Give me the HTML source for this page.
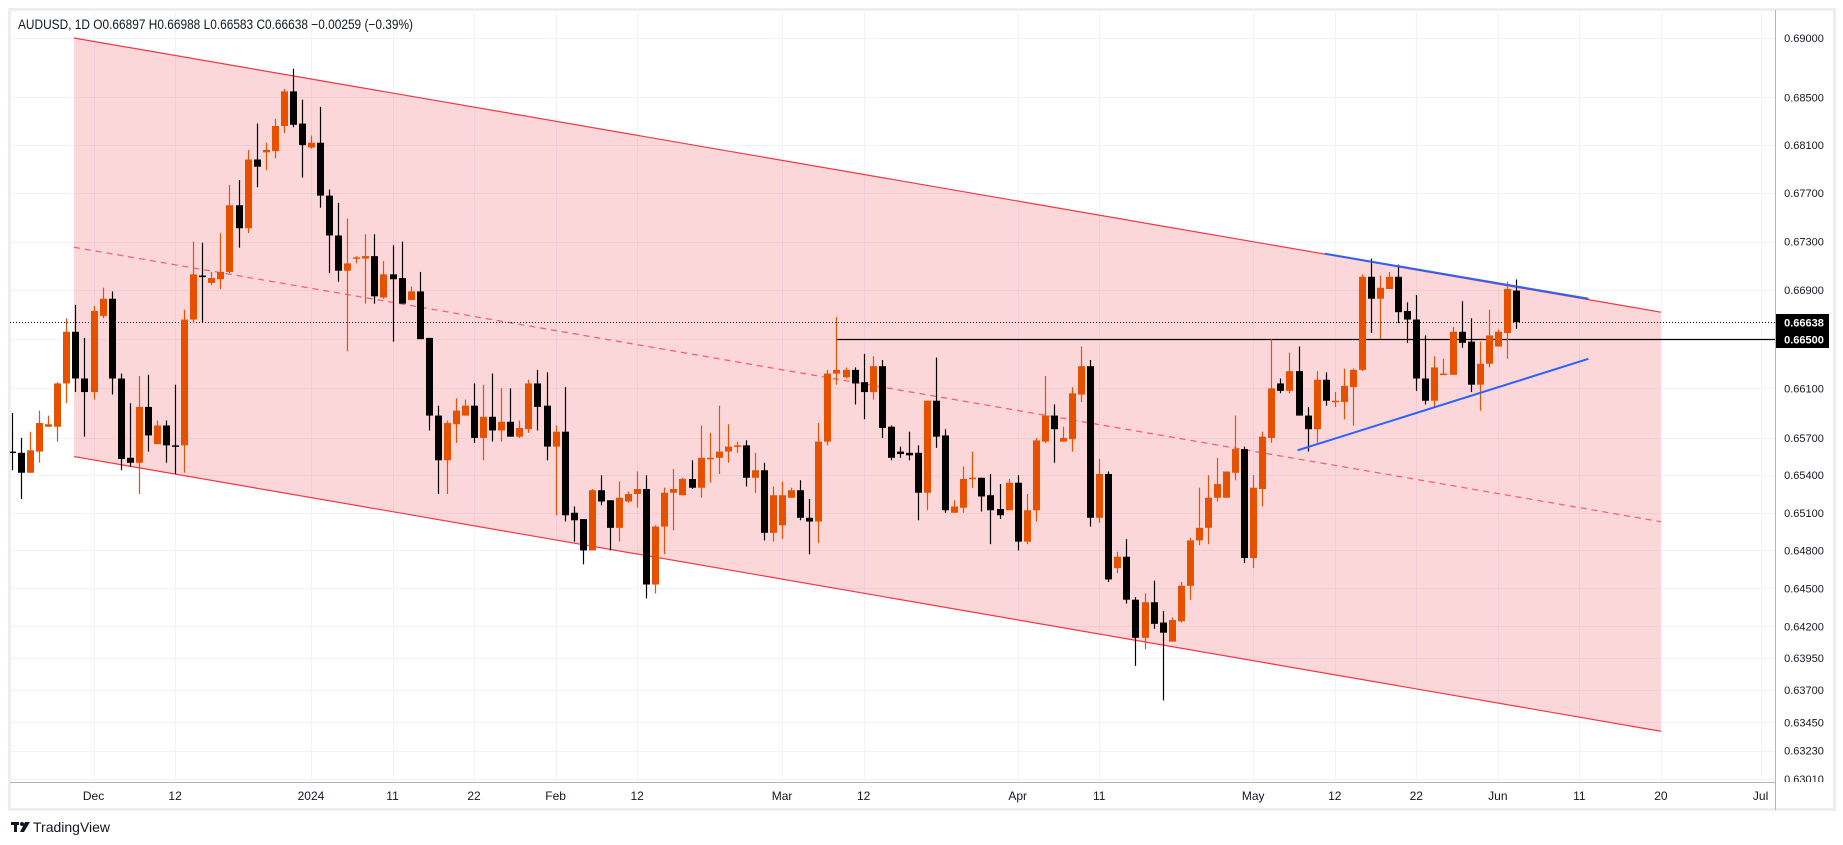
<!DOCTYPE html>
<html><head><meta charset="utf-8"><style>
html,body{margin:0;padding:0;background:#fff;}
svg{display:block;font-family:"Liberation Sans",sans-serif;}
</style></head><body>
<svg id="chart" width="1843" height="845" viewBox="0 0 1843 845" xmlns="http://www.w3.org/2000/svg">
<defs><clipPath id="plotclip"><rect x="10" y="10" width="1765" height="772"/></clipPath>
<clipPath id="axisclip"><rect x="1776" y="10" width="60" height="772"/></clipPath></defs>
<rect x="0" y="0" width="1843" height="845" fill="#fff"/>
<rect x="9.5" y="9.5" width="1825" height="800" fill="none" stroke="#eceef3" stroke-width="3"/>
<g id="grid"></g>
<g id="drawings-back" clip-path="url(#plotclip)"></g>
<g id="candles" clip-path="url(#plotclip)"></g>
<g id="drawings-front" clip-path="url(#plotclip)"></g>
<line x1="1775.5" y1="10" x2="1775.5" y2="810" stroke="#b2b5be" stroke-width="1"/>
<line x1="10" y1="782.5" x2="1775" y2="782.5" stroke="#b2b5be" stroke-width="1"/>
<g id="yaxis"></g>
<g id="xaxis"></g>
<text x="18" y="29" font-size="13.5" fill="#131722" textLength="395" lengthAdjust="spacingAndGlyphs">AUDUSD, 1D  O0.66897  H0.66988  L0.66583  C0.66638  −0.00259 (−0.39%)</text>
<g>
<rect x="11" y="822" width="8" height="3" fill="#131722"/><rect x="14" y="822" width="3" height="10" fill="#131722"/>
<circle cx="22" cy="824" r="2" fill="#131722"/><polygon points="25,822 30,822 24,832 20,832" fill="#131722"/>
<text x="33" y="832" font-size="14" fill="#131722">TradingView</text></g>
</svg>
<script>
const opens=[.6559,.6558,.6542,.6559,.6579,.6579,.6614,.6656,.6618,.6607,.6669,.6683,.6618,.6554,.6550,.6595,.6565,.6580,.6564,.6564,.6666,.6702,.6696,.6699,.6705,.6760,.6741,.6798,.6804,.6805,.6826,.6855,.6828,.6808,.6812,.6768,.6735,.6706,.6716,.6716,.6718,.6684,.6703,.6700,.6682,.6689,.6651,.6588,.6552,.6581,.6588,.6596,.6570,.6587,.6576,.6583,.6571,.6577,.6614,.6596,.6563,.6575,.6510,.6505,.6480,.6528,.6520,.6498,.6519,.6525,.6529,.6453,.6499,.6526,.6524,.6537,.6530,.6553,.6554,.6559,.6563,.6564,.6538,.6544,.6494,.6500,.6522,.6528,.6506,.6503,.6567,.6622,.6619,.6625,.6615,.6607,.6628,.6579,.6559,.6558,.6558,.6526,.6600,.6572,.6510,.6514,.6538,.6538,.6524,.6513,.6512,.6534,.6487,.6512,.6567,.6588,.6567,.6569,.6605,.6628,.6506,.6541,.6466,.6475,.6441,.6411,.6439,.6423,.6408,.6424,.6452,.6488,.6498,.6522,.6522,.6542,.6561,.6474,.6529,.6570,.6614,.6608,.6624,.6588,.6577,.6617,.6599,.6599,.6611,.6625,.6701,.6683,.6691,.6701,.6673,.6666,.6618,.6600,.6621,.6621,.6656,.6648,.6613,.6630,.6644,.6655,.66897];
const highs=[.6590,.6570,.6575,.6592,.6588,.6615,.6667,.6678,.6651,.6677,.6692,.6689,.6622,.6598,.6620,.6621,.6584,.6584,.6613,.6674,.6730,.6729,.6705,.6737,.6777,.6781,.6806,.6828,.6812,.6832,.6857,.6874,.6848,.6818,.6842,.6773,.6762,.6749,.6718,.6736,.6736,.6714,.6727,.6730,.6693,.6705,.6651,.6596,.6584,.6602,.6601,.6614,.6613,.6622,.6610,.6610,.6584,.6617,.6625,.6623,.6580,.6611,.6515,.6505,.6529,.6540,.6520,.6535,.6527,.6543,.6540,.6500,.6530,.6545,.6538,.6552,.6580,.6574,.6596,.6581,.6567,.6568,.6558,.6550,.6531,.6535,.6530,.6536,.6521,.6582,.6625,.6668,.6627,.6627,.6638,.6636,.6633,.6580,.6563,.6575,.6564,.6600,.6635,.6577,.6520,.6547,.6559,.6538,.6541,.6533,.6537,.6540,.6525,.6570,.6620,.6597,.6579,.6611,.6644,.6633,.6553,.6543,.6479,.6489,.6443,.6446,.6456,.6432,.6427,.6455,.6490,.6530,.6540,.6554,.6543,.6588,.6563,.6540,.6575,.6650,.6618,.6639,.6644,.6595,.6624,.6623,.6607,.6626,.6626,.6703,.6716,.6702,.6705,.6711,.6680,.6686,.6653,.6636,.6634,.6660,.6681,.6667,.6648,.6674,.6658,.6697,.66988];
const lows=[.6544,.6521,.6542,.6550,.6579,.6567,.6598,.6607,.6571,.6601,.6667,.6605,.6544,.6547,.6525,.6559,.6565,.6550,.6541,.6542,.6663,.6664,.6694,.6691,.6704,.6725,.6737,.6775,.6789,.6799,.6820,.6825,.6783,.6807,.6758,.6704,.6697,.6640,.6712,.6679,.6679,.6683,.6648,.6679,.6682,.6650,.6576,.6525,.6525,.6566,.6588,.6566,.6552,.6567,.6567,.6571,.6570,.6574,.6576,.6552,.6508,.6503,.6487,.6469,.6480,.6516,.6480,.6487,.6518,.6514,.6442,.6446,.6477,.6496,.6524,.6529,.6522,.6534,.6541,.6550,.6558,.6531,.6526,.6488,.6487,.6489,.6522,.6504,.6477,.6486,.6564,.6613,.6618,.6597,.6585,.6601,.6570,.6552,.6554,.6552,.6504,.6512,.6562,.6510,.6510,.6510,.6530,.6511,.6485,.6505,.6512,.6480,.6485,.6503,.6566,.6550,.6567,.6559,.6599,.6499,.6502,.6455,.6462,.6438,.6389,.6402,.6418,.6362,.6408,.6423,.6441,.6484,.6485,.6519,.6522,.6536,.6470,.6466,.6515,.6566,.6606,.6606,.6588,.6559,.6566,.6596,.6595,.6585,.6580,.6624,.6655,.6650,.6691,.6663,.6647,.6608,.6597,.6595,.6621,.6621,.6643,.6607,.6592,.6627,.6644,.6634,.66583];
const closes=[.6558,.6542,.6560,.6582,.6581,.6614,.6656,.6618,.6607,.6673,.6683,.6618,.6553,.6550,.6595,.6572,.6580,.6564,.6563,.6666,.6703,.6701,.6700,.6705,.6760,.6741,.6798,.6792,.6806,.6826,.6855,.6827,.6810,.6812,.6768,.6735,.6706,.6712,.6717,.6718,.6685,.6703,.6699,.6679,.6689,.6650,.6588,.6552,.6582,.6592,.6596,.6570,.6587,.6576,.6583,.6571,.6578,.6614,.6595,.6563,.6575,.6508,.6504,.6480,.6528,.6519,.6498,.6522,.6525,.6529,.6453,.6499,.6526,.6529,.6537,.6530,.6554,.6554,.6559,.6563,.6564,.6538,.6544,.6494,.6524,.6524,.6528,.6506,.6503,.6567,.6622,.6625,.6625,.6614,.6607,.6628,.6578,.6554,.6557,.6556,.6526,.6600,.6571,.6512,.6515,.6537,.6538,.6523,.6512,.6508,.6534,.6487,.6512,.6568,.6588,.6577,.6570,.6606,.6628,.6506,.6541,.6457,.6475,.6441,.6411,.6439,.6422,.6415,.6425,.6452,.6488,.6498,.6522,.6533,.6543,.6561,.6474,.6530,.6571,.6610,.6608,.6624,.6588,.6577,.6617,.6600,.6600,.6612,.6625,.6701,.6683,.6692,.6701,.6672,.6666,.6618,.6600,.6627,.6622,.6656,.6647,.6613,.6630,.6653,.6656,.6691,.66638];
const yTickValues=[0.69,0.685,0.681,0.677,0.673,0.669,0.665,0.661,0.657,0.654,0.651,0.648,0.645,0.642,0.6395,0.637,0.6345,0.6323,0.6301];
const yTickLabels=["0.69000","0.68500","0.68100","0.67700","0.67300","0.66900","0.66500","0.66100","0.65700","0.65400","0.65100","0.64800","0.64500","0.64200","0.63950","0.63700","0.63450","0.63230","0.63010"];
const xTickIndex=[9,18,33,42,51,60,69,85,94,111,120,137,146,155,164,173,182,193];
const xTickLabels=["Dec","12","2024","11","22","Feb","12","Mar","12","Apr","11","May","12","22","Jun","11","20","Jul"];
const channelUpper=[[6.84,0.6900],[182,0.6672]];
const channelLower=[[6.84,0.6555],[182,0.6338]];
const blueUpper=[[144.9,0.6720],[174,0.6683]];
const blueLower=[[141.9,0.6560],[174,0.6634]];
const levelLine=[91,0.6650];
const lastPrice=0.66638;

const NS="http://www.w3.org/2000/svg";
function xS(i){return 12+i*9.06;}
function yS(p){return 38+(Math.log(0.69)-Math.log(p))*8160;}
function mk(tag,attrs,parent){const e=document.createElementNS(NS,tag);for(const k in attrs)e.setAttribute(k,attrs[k]);parent.appendChild(e);return e;}

const grid=document.getElementById('grid');
yTickValues.forEach(v=>{const y=Math.round(yS(v))+0.5;const l=mk('line',{x1:10,x2:1775,y1:y,y2:y,stroke:'#f0f3fa','stroke-width':1},grid);

});
xTickIndex.forEach(i=>{const x=Math.round(xS(i))+0.5;const l=mk('line',{x1:x,x2:x,y1:10,y2:782,stroke:'#f0f3fa','stroke-width':1},grid);

});

const back=document.getElementById('drawings-back');
const ux1=xS(channelUpper[0][0]),uy1=yS(channelUpper[0][1]),ux2=xS(channelUpper[1][0]),uy2=yS(channelUpper[1][1]);
const ly1=yS(channelLower[0][1]),ly2=yS(channelLower[1][1]);
const fill=mk('polygon',{points:`${ux1},${uy1} ${ux2},${uy2} ${ux2},${ly2} ${ux1},${ly1}`,fill:'rgba(242,54,69,0.2)'},back);


const cu=mk('line',{x1:ux1,y1:uy1,x2:ux2,y2:uy2,stroke:'#f23645','stroke-width':1.2},back);


const cl=mk('line',{x1:ux1,y1:ly1,x2:ux2,y2:ly2,stroke:'#f23645','stroke-width':1.2},back);


const cm=mk('line',{x1:ux1,y1:(uy1+ly1)/2,x2:ux2,y2:(uy2+ly2)/2,stroke:'#f23645','stroke-width':1.2,'stroke-dasharray':'6 5','opacity':0.75},back);


const ly=Math.round(yS(levelLine[1]))+0.5;
const lv=mk('line',{x1:xS(levelLine[0]),y1:ly,x2:1775,y2:ly,stroke:'#000','stroke-width':1.2},back);


const lpY=Math.round(yS(lastPrice))+0.5;
const dl=mk('line',{x1:10,y1:lpY,x2:1775,y2:lpY,stroke:'#000','stroke-width':1,'stroke-dasharray':'1 2'},back);



const cg=document.getElementById('candles');
for(let i=0;i<opens.length;i++){
  const up=closes[i]>=opens[i];const col=up?'#e65100':'#000000';const x=xS(i);
  const g=mk('g',{},cg);
  
  
  mk('line',{x1:Math.round(x)+0.5,x2:Math.round(x)+0.5,y1:yS(highs[i]),y2:yS(lows[i]),stroke:col,'stroke-width':1.2},g);
  const t=yS(Math.max(opens[i],closes[i])),b=yS(Math.min(opens[i],closes[i]));
  mk('rect',{x:Math.round(x)-3,y:t,width:7,height:Math.max(1.5,b-t),fill:col},g);
}

const fg=document.getElementById('drawings-front');
[[blueUpper,'wedge-upper-line'],[blueLower,'wedge-lower-line']].forEach(([d,n])=>{
  const l=mk('line',{x1:xS(d[0][0]),y1:yS(d[0][1]),x2:xS(d[1][0]),y2:yS(d[1][1]),stroke:'#2962ff','stroke-width':2},fg);
  
  
});

const ya=document.getElementById('yaxis');
const yl=mk('g',{'clip-path':'url(#axisclip)'},ya);
yTickValues.forEach((v,k)=>{if(v===levelLine[1])return;
  const t=mk('text',{x:1804,y:yS(v)+4,'font-size':11,'text-anchor':'middle',fill:'#131722'},yl);
  
  
  t.textContent=yTickLabels[k];});
[[lastPrice,"0.66638",314],[levelLine[1],"0.66500",331]].forEach(([v,s,top])=>{
  const g=mk('g',{},ya);
  
  
  mk('rect',{x:1776,y:top,width:53,height:17,fill:'#000'},g);
  const t=mk('text',{x:1804,y:top+12.5,'font-size':11,'font-weight':'bold','text-anchor':'middle',fill:'#fff'},g);
  t.textContent=s;});

const xa=document.getElementById('xaxis');
xTickIndex.forEach((i,k)=>{
  const t=mk('text',{x:xS(i),y:800,'font-size':12,'text-anchor':'middle',fill:'#131722'},xa);
  
  
  t.textContent=xTickLabels[k];});
</script>
</body></html>
